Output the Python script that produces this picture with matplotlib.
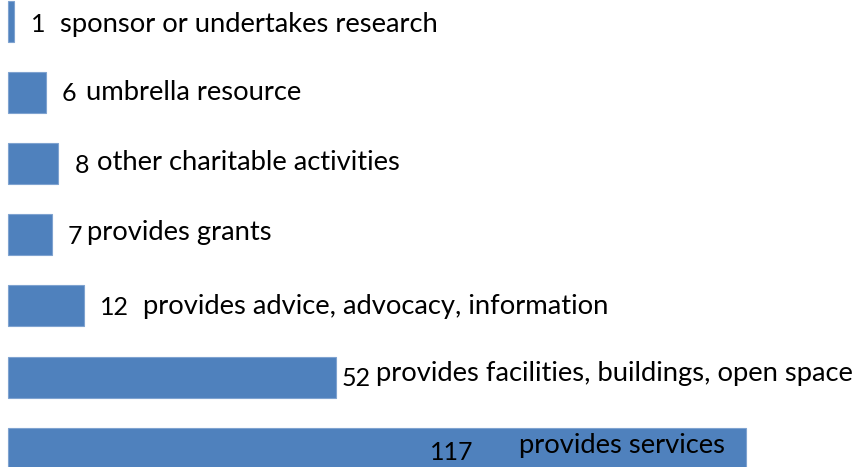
import matplotlib
matplotlib.use("Agg")
import matplotlib.pyplot as plt

categories = ["sponsor or undertakes research", "umbrella resource",
              "other charitable activities", "provides grants",
              "provides advice, advocacy, information",
              "provides facilities, buildings, open space",
              "provides services"]
counts = [1, 6, 8, 7, 12, 52, 117]

# manual label placement (pixels), like the hand-moved labels of the original
num_dx = [17, 16, 16, 15, 16, 5, -316]   # number left edge from bar end
txt_dx = [29, 24, 23, 20, 43, 35, 89]    # category text from number left edge
num_dy = [10.5, 8.5, 9.5, 9, 9.5, 8.5, 11.5]   # baseline below bar centre
txt_dy = [10.5, 7.5, 6.5, 5, 8.5, 4.5, 5]

W, H, DPI = 854, 467, 100
px_per_unit = 6.31
x0_px = 8
row_px = 71.1
first_px = 21.5
fs = 19.7
fs_num = 18

plt.rcParams['font.family'] = ['Lato', 'DejaVu Sans']

fig = plt.figure(figsize=(W / DPI, H / DPI), dpi=DPI)
ax = fig.add_axes([0, 0, 1, 1])
ax.set_xlim(-x0_px / px_per_unit, (W - x0_px) / px_per_unit)
ax.set_ylim((H - first_px) / row_px, -first_px / row_px)
ax.axis('off')

ypos = list(range(len(counts)))
ax.barh(ypos, counts, height=41 / row_px, color='#4F81BD',
        edgecolor='#7FA3D0', linewidth=0.8)

for i, (c, name) in enumerate(zip(counts, categories)):
    ax.annotate(str(c), xy=(c, i), xytext=(num_dx[i], -num_dy[i]),
                textcoords='offset pixels', ha='left', va='baseline',
                fontsize=fs_num, color='black')
    ax.annotate(name, xy=(c, i), xytext=(num_dx[i] + txt_dx[i], -txt_dy[i]),
                textcoords='offset pixels', ha='left', va='baseline',
                fontsize=fs, color='black')

fig.savefig("out.png", dpi=DPI)
